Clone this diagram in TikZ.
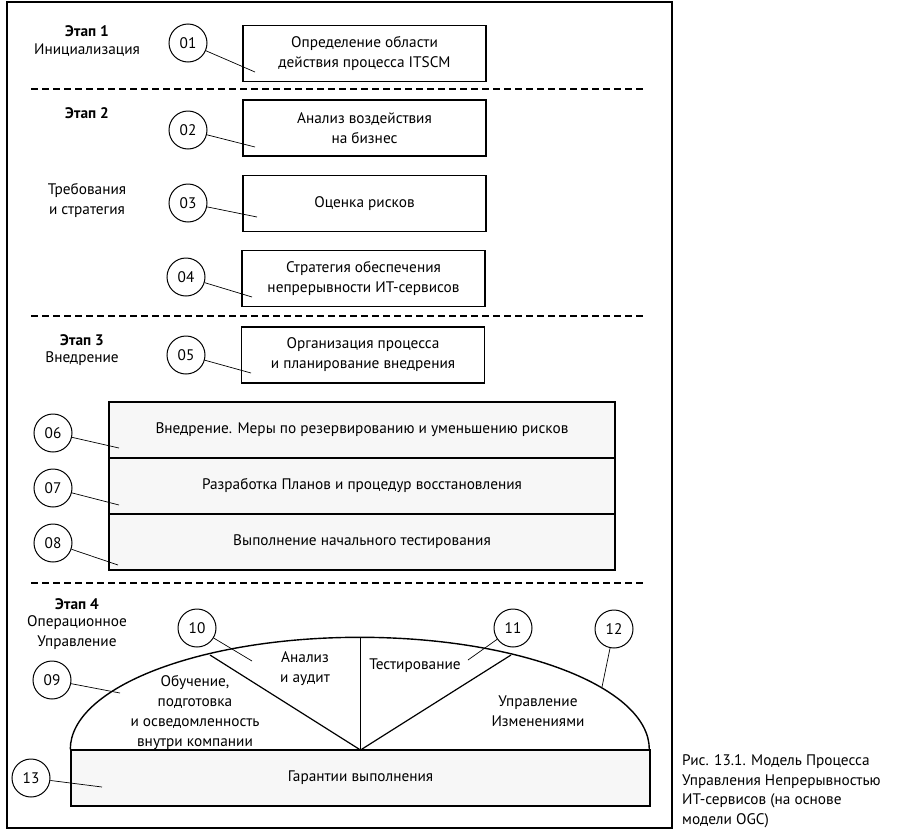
\documentclass[tikz,border=0pt]{standalone}
\usepackage{fontspec}
\setmainfont{PT Sans}
\usetikzlibrary{positioning}
\newcommand{\diagfont}{\fontsize{15.3}{20}\selectfont}

\begin{document}
\begin{tikzpicture}[
            x=1pt, y=-1pt,
            stepbox/.style={rectangle, draw=black, line width=1.4pt, minimum width=243pt, minimum height=56pt, align=center, font=\diagfont},
            widebox/.style={rectangle, draw=black, line width=1.4pt, fill=black!3, minimum width=506pt, minimum height=56pt, align=center, font=\diagfont},
            numcirc/.style={circle, draw=black, line width=1pt, fill=white, minimum size=38pt, inner sep=0pt, font=\diagfont},
            stagehead/.style={font=\diagfont\bfseries},
            stagename/.style={align=center, font=\diagfont},
            plain/.style={align=center, font=\diagfont},
            pointer/.style={line width=0.7pt},
            stageline/.style={dashed, line width=2.2pt, dash pattern=on 7pt off 4pt}
        ]
        \useasboundingbox (0,0) rectangle (907,830);

        % Frame
        \draw[line width=1.2pt] (7,2) rectangle (672,828);

        % Stage 1
        \node[stagehead] (e1) at (87,31) {Этап 1};
        \node[stagename] (n1) at (87,50) {Инициализация};
        \node[stepbox] (b01) at (364.5,53.5) {Определение области\\действия процесса ITSCM};
        \node[numcirc] (c01) at (188,43) {01};
        \coordinate (p01) at (255,72);
        \draw[pointer] (c01) -- (p01);

        \draw[stageline] (31,89) -- (646,89);

        % Stage 2
        \node[stagehead] (e2) at (87,113) {Этап 2};
        \node[stagename] (n2) at (87,200) {Требования\\и стратегия};
        \node[stepbox] (b02) at (364.5,128) {Анализ воздействия\\на бизнес};
        \node[stepbox] (b03) at (364.5,203.5) {Оценка рисков};
        \node[stepbox] (b04) at (363.5,278.5) {Стратегия обеспечения\\непрерывности ИТ-сервисов};
        \node[numcirc] (c02) at (188,130) {02};
        \node[numcirc] (c03) at (188,203) {03};
        \node[numcirc] (c04) at (186,277) {04};
        \coordinate (p02) at (255,147);
        \coordinate (p03) at (257,217);
        \coordinate (p04) at (252,297);
        \draw[pointer] (c02) -- (p02);
        \draw[pointer] (c03) -- (p03);
        \draw[pointer] (c04) -- (p04);

        \draw[stageline] (31,316) -- (646,316);

        % Stage 3
        \node[stagehead] (e3) at (82,340) {Этап 3};
        \node[stagename] (n3) at (82,359) {Внедрение};
        \node[stepbox] (b05) at (363,355) {Организация процесса\\и планирование внедрения};
        \node[numcirc] (c05) at (186,355) {05};
        \coordinate (p05) at (251,373);
        \draw[pointer] (c05) -- (p05);

        \node[widebox] (b06) at (362,430) {Внедрение. Меры по резервированию и уменьшению рисков};
        \node[widebox] (b07) at (362,486) {Разработка Планов и процедур восстановления};
        \node[widebox] (b08) at (362,542) {Выполнение начального тестирования};
        \node[numcirc] (c06) at (53,433) {06};
        \node[numcirc] (c07) at (53,488) {07};
        \node[numcirc] (c08) at (53,543) {08};
        \coordinate (p06) at (119,448);
        \coordinate (p07) at (119,505);
        \coordinate (p08) at (118,565);
        \draw[pointer] (c06) -- (p06);
        \draw[pointer] (c07) -- (p07);
        \draw[pointer] (c08) -- (p08);

        \draw[stageline] (31,583) -- (646,583);

        % Stage 4
        \node[stagehead] (e4) at (77,604) {Этап 4};
        \node[stagename] (n4) at (77,633) {Операционное\\Управление};

        \node[widebox, minimum width=579pt] (b13) at (360.5,778) {Гарантии выполнения};
        \coordinate (apex) at (360.5,750);
        \coordinate (k1) at (210,655);
        \coordinate (k2) at (511,655);
        \coordinate (k3) at (360.5,638);
        \draw[line width=1.4pt] (b13.north west) arc[start angle=180, end angle=360, x radius=289.5, y radius=112];
        \draw[line width=1.2pt] (k1) -- (apex) -- (k2);
        \draw[line width=1.2pt] (apex) -- (k3);

        \node[plain] (t09) at (195,713) {Обучение,\\подготовка\\и осведомленность\\внутри компании};
        \node[plain] (t10) at (305,669) {Анализ\\и аудит};
        \node[plain] (t11) at (415,666) {Тестирование};
        \node[plain] (t12) at (538,711) {Управление\\Изменениями};

        \node[numcirc] (c09) at (52,680) {09};
        \node[numcirc] (c10) at (197,628) {10};
        \node[numcirc] (c11) at (513,628) {11};
        \node[numcirc] (c12) at (614,629) {12};
        \node[numcirc] (c13) at (31,778) {13};
        \coordinate (p09) at (120,693);
        \coordinate (p10) at (252,661);
        \coordinate (p11) at (468,660);
        \coordinate (p12) at (602,687);
        \coordinate (p13) at (102,787);
        \draw[pointer] (c09) -- (p09);
        \draw[pointer] (c10) -- (p10);
        \draw[pointer] (c11) -- (p11);
        \draw[pointer] (c12) -- (p12);
        \draw[pointer] (c13) -- (p13);

        % Caption
        \node[anchor=west, align=left, font=\fontsize{15.3}{19.5}\selectfont, inner sep=0pt] (cap) at (682,791) {Рис. 13.1. Модель Процесса\\Управления Непрерывностью\\ИТ-сервисов (на основе\\модели OGC)};
        \end{tikzpicture}
\end{document}
